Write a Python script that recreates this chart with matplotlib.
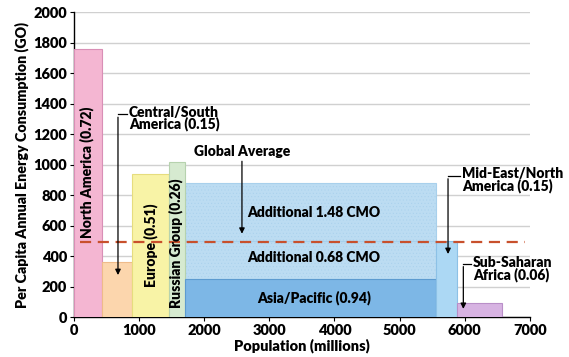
import matplotlib
matplotlib.use("Agg")
import matplotlib.pyplot as plt

plt.rcParams['font.family'] = ['Lato', 'DejaVu Sans']
plt.rcParams['font.weight'] = 'bold'
plt.rcParams['hatch.linewidth'] = 0.3

# Regions: population boundaries (millions) and per capita consumption (GO)
regions = ["North America (0.72)", "Central/South America (0.15)", "Europe (0.51)",
           "Russian Group (0.26)", "Asia/Pacific (0.94)", "Mid-East/North America (0.15)",
           "Sub-Saharan Africa (0.06)"]
pop_start = [0, 425, 886, 1464, 1710, 5561, 5878]
pop_width = [425, 461, 578, 246, 3851, 317, 692]
consumption = [1760, 360, 940, 1020, 250, 500, 95]
colors = ["#f4b6d2", "#fcd6ad", "#f8f3a6", "#d6ead0", "#7db7e6", "#acd8f4", "#d7b3e2"]
edges = ["#d98fb6", "#efbb8a", "#e6dd7e", "#b6d2ae", "#5d9bd0", "#8cc1e6", "#b98fc8"]

# Additional Asia/Pacific consumption layers (CMO)
add_labels = ["Additional 0.68 CMO", "Additional 1.48 CMO"]
add_bottom = [250, 500]
add_top = [500, 880]

global_average = 495
x_ticks = [0, 1000, 2000, 3000, 4000, 5000, 6000, 7000]
y_ticks = [0, 200, 400, 600, 800, 1000, 1200, 1400, 1600, 1800, 2000]

fig = plt.figure(figsize=(5.69, 3.57), dpi=100)
ax = fig.add_axes([0.130, 0.112, 0.801, 0.854])

ax.set_xlim(0, 7000)
ax.set_ylim(0, 2000)
ax.set_xticks(x_ticks)
ax.set_yticks(y_ticks)
ax.tick_params(labelsize=10.5, length=3, width=0.8, pad=2)
for lab in ax.get_xticklabels() + ax.get_yticklabels():
    lab.set_fontweight('heavy')
ax.yaxis.grid(True, color="#d0d0d0", linewidth=1.0)
ax.set_axisbelow(True)
for s in ["top", "right"]:
    ax.spines[s].set_visible(False)
ax.spines["left"].set_linewidth(1.0)
ax.spines["bottom"].set_linewidth(1.0)

# additional layers
for b, t in zip(add_bottom, add_top):
    ax.bar(pop_start[4], t - b, width=pop_width[4], bottom=b, align='edge',
           color="#bcdcf2", edgecolor="#a8d0ec", linewidth=0.8, hatch='.....', zorder=2)

ax.bar(pop_start, consumption, width=pop_width, align='edge',
       color=colors, edgecolor=edges, linewidth=0.8, zorder=3)

# global average
ax.plot([100, 6930], [global_average, global_average], color="#c8502c",
        linestyle=(0, (5, 3)), linewidth=1.6, zorder=5)

fs = 10
fw = 'heavy'
# in-bar labels
ax.text(200, 947, regions[0], rotation=90, ha='center', va='center', fontsize=fs, fontweight=fw, zorder=6)
ax.text(1183, 470, regions[2], rotation=90, ha='center', va='center', fontsize=fs, fontweight=fw, zorder=6)
ax.text(1565, 487, regions[3], rotation=90, ha='center', va='center', fontsize=fs, fontweight=fw, zorder=6)
ax.text(3687, 686, add_labels[1], ha='center', va='center', fontsize=fs, fontweight=fw, zorder=6)
ax.text(3687, 388, add_labels[0], ha='center', va='center', fontsize=fs, fontweight=fw, zorder=6)
ax.text(3687, 125, regions[4], ha='center', va='center', fontsize=fs, fontweight=fw, zorder=6)

arrow_kw = dict(arrowstyle='-|>', color='black', lw=0.9, mutation_scale=8)

def bracket(text, tx, ty, hy, vx, tipy):
    ax.text(tx, ty, text, ha='left', va='center', fontsize=fs, fontweight=fw,
            linespacing=0.85, zorder=6)
    ax.plot([tx - 30, vx], [hy, hy], color='black', lw=0.9, zorder=6)
    ax.annotate('', xy=(vx, tipy), xytext=(vx, hy), arrowprops=arrow_kw, zorder=6)

bracket("Central/South\nAmerica (0.15)", 845, 1302, 1329, 676, 257)
bracket("Mid-East/North\nAmerica (0.15)", 5955, 900, 925, 5745, 395)
bracket("Sub-Saharan\nAfrica (0.06)", 6129, 316, 349, 5980, 35)

ax.text(2575, 1086, "Global Average", ha='center', va='center', fontsize=fs, fontweight=fw, zorder=6)
ax.annotate('', xy=(2580, 528), xytext=(2580, 1040), arrowprops=arrow_kw, zorder=6)

ax.set_xlabel("Population (millions)", fontsize=10.5, fontweight=fw, labelpad=1)
ax.set_ylabel("Per Capita Annual Energy Consumption (GO)", fontsize=10.3, fontweight=fw, labelpad=3)

fig.savefig("out.png", dpi=100)
